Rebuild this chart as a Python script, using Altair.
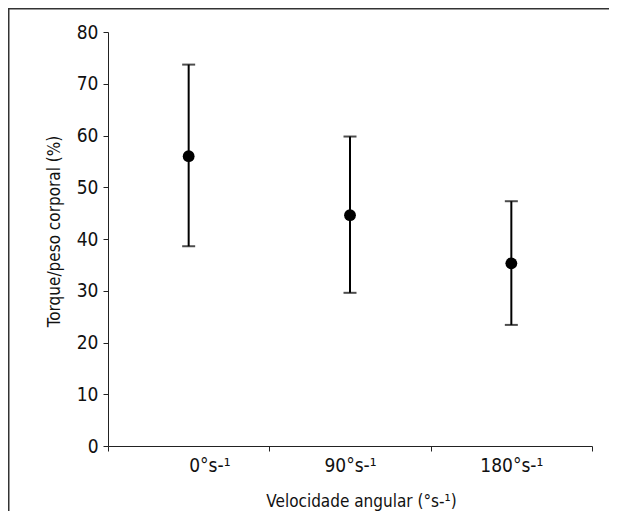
import altair as alt
import pandas as pd

categories = ["0°s-¹", "90°s-¹", "180°s-¹"]
means = [56.0, 44.6, 35.3]
lows = [38.6, 29.6, 23.4]
highs = [73.7, 59.8, 47.3]

df = pd.DataFrame({"cat": categories, "mean": means, "low": lows, "high": highs})

FONT = "DejaVu Sans Condensed, Roboto, sans-serif"
W, H = 484, 414
cats_js = "[" + ",".join("'" + c + "'" for c in categories) + "]"

base = alt.Chart(df).transform_calculate(
    xpos="indexof(" + cats_js + ", datum.cat) + 0.5"
)

xenc = alt.X(
    "xpos:Q",
    scale=alt.Scale(domain=[0, len(categories)], nice=False, zero=False),
    axis=alt.Axis(
        values=list(range(len(categories) + 1)),
        labelExpr="datum.value < " + str(len(categories)) + " ? " + cats_js + "[datum.value] : ''",
        labelOffset=W / (2 * len(categories)),
        title="Velocidade angular (°s-¹)",
        titleX=W / 2 + 11,
        grid=False,
    ),
)
yscale = alt.Scale(domain=[0, 80], nice=False)
yaxis = alt.Axis(values=list(range(0, 81, 10)), title="Torque/peso corporal (%)", titleY=H / 2 - 8, grid=False)

rules = base.mark_rule(color="black", strokeWidth=2).encode(
    x=xenc, y=alt.Y("low:Q", scale=yscale, axis=yaxis), y2="high:Q")
caps_hi = base.mark_tick(color="black", size=13, thickness=2, orient="horizontal").encode(
    x=xenc, y=alt.Y("high:Q", scale=yscale, axis=yaxis))
caps_lo = base.mark_tick(color="black", size=13, thickness=2, orient="horizontal").encode(
    x=xenc, y=alt.Y("low:Q", scale=yscale, axis=yaxis))
pts = base.mark_circle(color="black", size=140, opacity=1).encode(
    x=xenc, y=alt.Y("mean:Q", scale=yscale, axis=yaxis))

frame_top = alt.Chart(df.head(1)).mark_rect(color="#333", strokeWidth=0).encode(
    x=alt.value(-100), x2=alt.value(W + 17), y=alt.value(-24), y2=alt.value(-22.5)
)
frame_left = alt.Chart(df.head(1)).mark_rect(color="#333", strokeWidth=0).encode(
    x=alt.value(-100), x2=alt.value(-98.5), y=alt.value(-24), y2=alt.value(H + 65)
)

chart = alt.layer(frame_top, frame_left, rules, caps_hi, caps_lo, pts).properties(
    width=W, height=H,
    autosize=alt.AutoSizeParams(type="none"),
    padding={"left": 100, "top": 24, "right": 18, "bottom": 66},
).configure_view(stroke=None).configure_axis(
    labelFont=FONT, titleFont=FONT, labelFontSize=19, titleFontSize=17,
    labelColor="#111", titleColor="#111", titleFontWeight="normal",
    domainColor="#222", tickColor="#222", tickSize=5, labelPadding=5,
).configure_axisY(titlePadding=13).configure_axisX(titlePadding=18)

chart.save("out.html", embed_options={"renderer": "svg", "actions": False})
